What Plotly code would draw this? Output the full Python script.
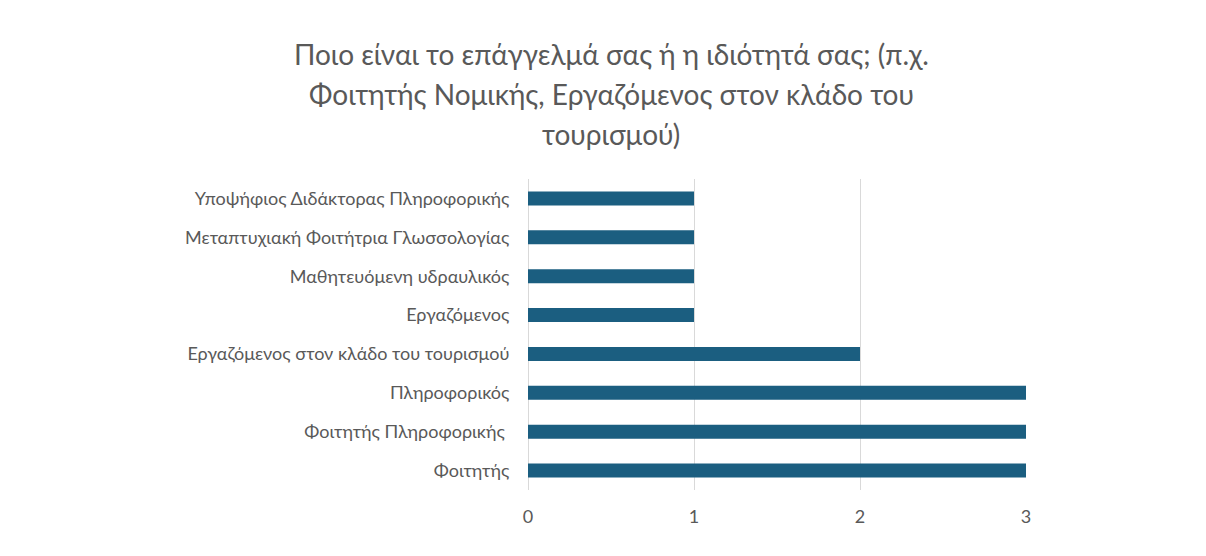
import plotly.graph_objects as go

categories = [
    "Φοιτητής",
    "Φοιτητής Πληροφορικής ",
    "Πληροφορικός",
    "Εργαζόμενος στον κλάδο του τουρισμού",
    "Εργαζόμενος",
    "Μαθητευόμενη υδραυλικός",
    "Μεταπτυχιακή Φοιτήτρια Γλωσσολογίας",
    "Υποψήφιος Διδάκτορας Πληροφορικής",
]
values = [3, 3, 3, 2, 1, 1, 1, 1]
x_ticks = [0, 1, 2, 3]
title_lines = [
    "Ποιο είναι το επάγγελμά σας ή η ιδιότητά σας; (π.χ.",
    "Φοιτητής Νομικής, Εργαζόμενος στον κλάδο του",
    "τουρισμού)",
]

# page has an 8px body margin; figure coords = page coords - 8
W, H = 1190, 540
L, R, T, B = 520, 172, 170.5, 57.5
ph = H - T - B

fig = go.Figure(go.Bar(
    x=values, y=categories, orientation="h",
    marker=dict(color="#1b5e80", line=dict(width=0)),
    width=0.36,
))

font_fam = "Lato, Roboto, sans-serif"
fig.update_layout(
    width=W, height=H,
    margin=dict(l=L, r=R, t=T, b=B, autoexpand=False),
    paper_bgcolor="white", plot_bgcolor="white",
    showlegend=False,
    font=dict(family=font_fam, color="#595959", size=18),
)
fig.update_xaxes(
    range=[0, 3.0], tickvals=x_ticks, ticktext=[str(v) for v in x_ticks],
    showgrid=True, gridcolor="#d9d9d9", gridwidth=1,
    zeroline=True, zerolinecolor="#d9d9d9", zerolinewidth=1,
    showline=False, ticks="outside", ticklen=10, tickcolor="rgba(0,0,0,0)",
    tickfont=dict(size=18, color="#595959"),
)
fig.update_yaxes(
    showgrid=False, showline=False, zeroline=False,
    ticks="outside", ticklen=14, tickcolor="rgba(0,0,0,0)",
    tickfont=dict(size=18, color="#595959"),
    range=[-0.5, 7.5],
)

title_y_px = [45, 85, 125]
for line, ypx in zip(title_lines, title_y_px):
    fig.add_annotation(
        text=line, xref="paper", yref="paper",
        x=(603 - L) / (W - L - R), y=(H - B - ypx) / ph,
        xanchor="center", yanchor="middle", showarrow=False,
        font=dict(family="Lato, Roboto, sans-serif", size=28, color="#595959"),
    )

fig.write_html("out.html")
